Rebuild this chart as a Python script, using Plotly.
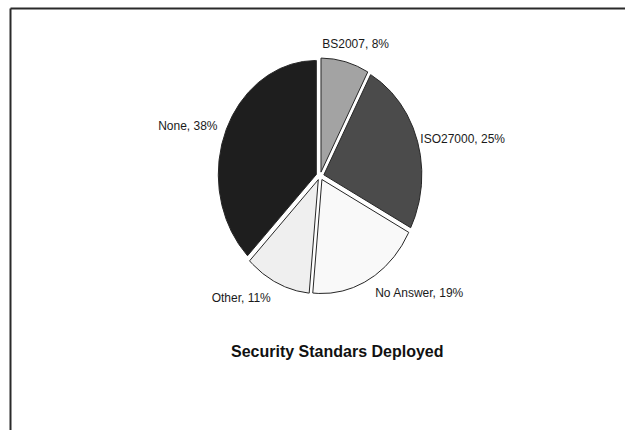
import numpy as np
import plotly.graph_objects as go

# Survey answers: which security standard is deployed (percent of respondents)
categories = ["BS2007", "ISO27000", "No Answer", "Other", "None"]
shares = [8, 25, 19, 11, 38]
colors = ["#a3a3a3", "#4b4b4b", "#f9f9f9", "#efefef", "#1e1e1e"]
title_text = "Security Standars Deployed"

W, H = 625, 430
CX, CY = 320, 176          # pie centre in pixels
RX, RY = 98, 114           # pixels per data unit (slightly tall ellipse)
GAP_PX = 4                 # explode offset of every slice
# how far out each label sits, as a fraction of the radius
label_dist = {"BS2007": 1.13, "ISO27000": 1.07, "No Answer": 1.18,
              "Other": 1.19, "None": 1.13}

fig = go.Figure()

total = float(sum(shares))
start = 0.0
for name, val, col in zip(categories, shares, colors):
    sweep = 360.0 * val / total
    mid = np.radians(start + sweep / 2)
    ox = GAP_PX / RX * np.sin(mid)
    oy = GAP_PX / RY * np.cos(mid)
    th = np.radians(np.linspace(start, start + sweep, max(int(sweep * 2), 8)))
    xs = np.concatenate([[0], np.sin(th), [0]]) + ox
    ys = np.concatenate([[0], np.cos(th), [0]]) + oy
    fig.add_trace(go.Scatter(
        x=xs, y=ys, mode="lines", fill="toself", fillcolor=col,
        line=dict(color="#262626", width=1), hoverinfo="skip", showlegend=False,
    ))
    # outside label
    r = label_dist[name]
    lx, ly = r * np.sin(mid), r * np.cos(mid)
    deg = (start + sweep / 2) % 360
    if deg < 25 or deg > 335:
        pos = "top right"
        lx -= 25 / RX
    elif deg < 180:
        pos = "middle right"
    else:
        pos = "middle left"
    fig.add_trace(go.Scatter(
        x=[lx], y=[ly], mode="text", text=[f"{name}, {val}%"], textposition=pos,
        textfont=dict(family="Liberation Sans, Arial, sans-serif", size=12, color="#1a1a1a"),
        hoverinfo="skip", showlegend=False,
    ))
    start += sweep

fig.update_xaxes(range=[-CX / RX, (W - CX) / RX], visible=False, fixedrange=True)
fig.update_yaxes(range=[-(H - CY) / RY, CY / RY], visible=False, fixedrange=True)

# chart frame (top and left edges)
fx, fy = 10.5 / W, 1 - 8.5 / H
fig.add_shape(type="line", xref="paper", yref="paper", x0=fx, y0=fy, x1=1, y1=fy,
              line=dict(color="#2a2a2a", width=2))
fig.add_shape(type="line", xref="paper", yref="paper", x0=fx, y0=0, x1=fx, y1=fy,
              line=dict(color="#2a2a2a", width=2))

fig.add_annotation(text=f"<b>{title_text}</b>", xref="paper", yref="paper",
                   x=337 / W, y=1 - 351 / H, xanchor="center", yanchor="middle",
                   showarrow=False,
                   font=dict(family="Liberation Sans, Arial, sans-serif", size=16, color="#111111"))

fig.update_layout(
    width=W, height=H, margin=dict(l=0, r=0, t=0, b=0),
    paper_bgcolor="white", plot_bgcolor="white",
)

fig.write_html("out.html", config={"displayModeBar": False})
